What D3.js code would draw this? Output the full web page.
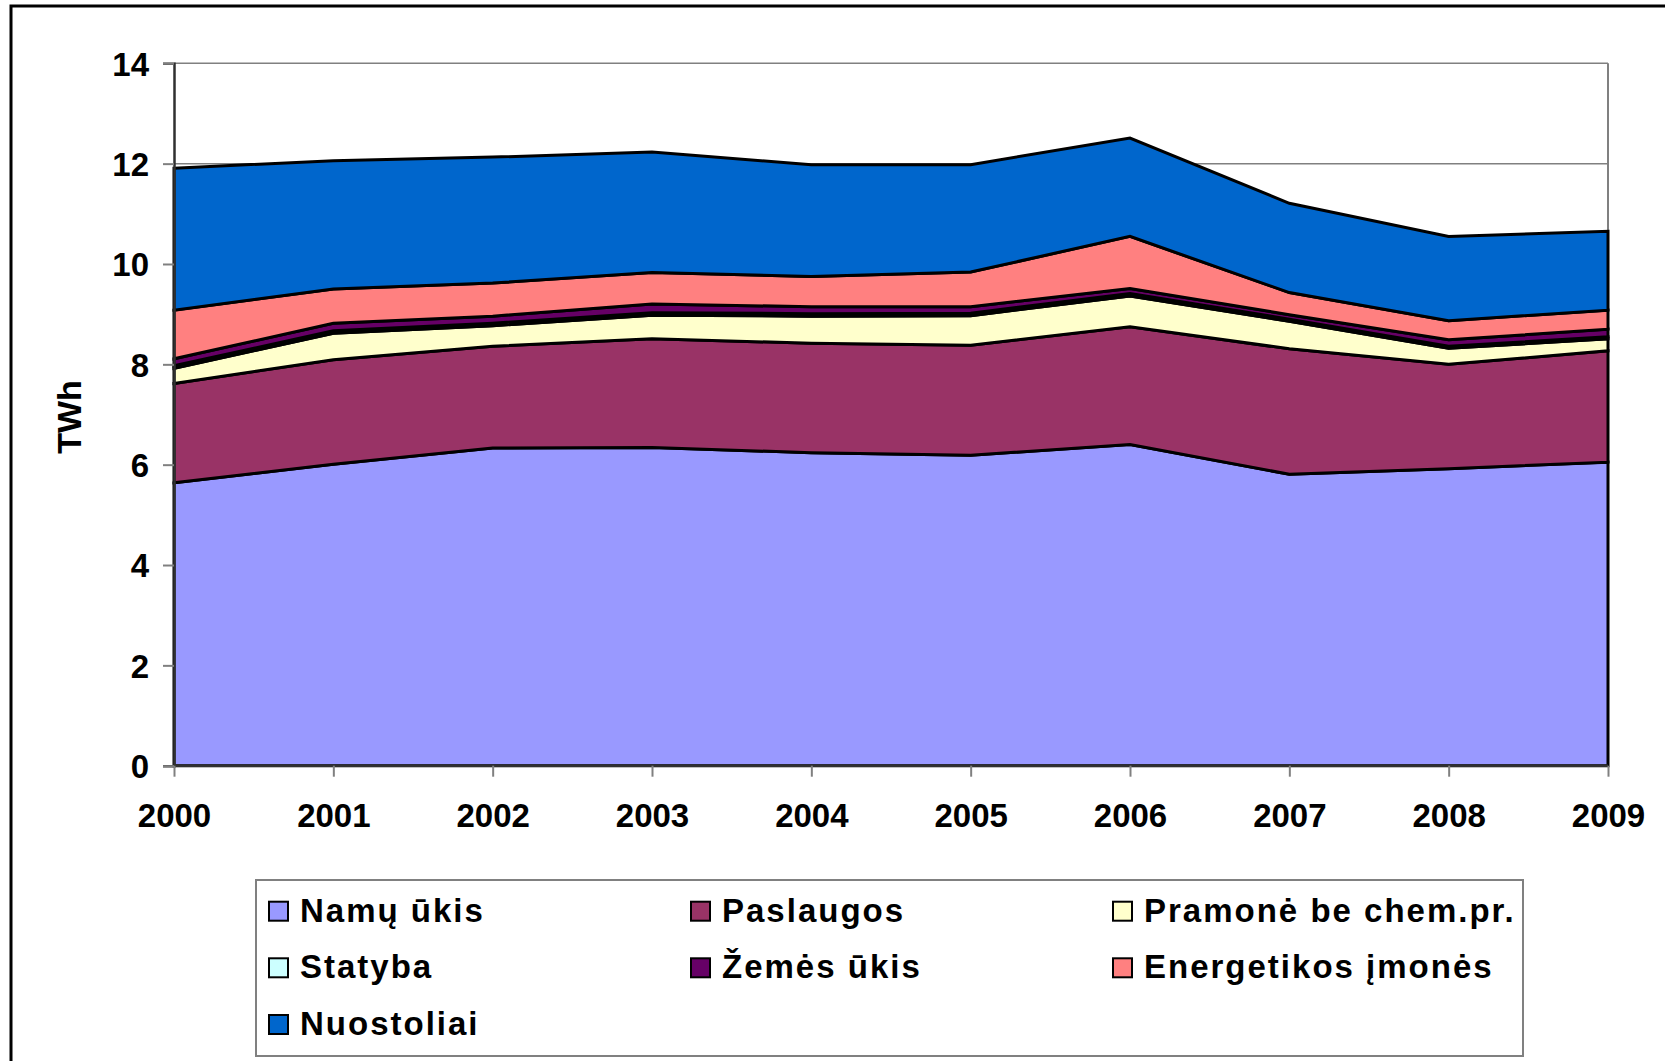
<!DOCTYPE html>
<html><head><meta charset="utf-8">
<script src="https://cdn.jsdelivr.net/npm/d3@7"></script>
<style>body{margin:0;background:#fff}svg{display:block}text{font-family:"Liberation Sans",Arial,sans-serif;font-weight:bold;fill:#000}</style>
</head><body>
<svg id="c" width="1665" height="1061"></svg>
<script>
const years = [2000,2001,2002,2003,2004,2005,2006,2007,2008,2009];
const seriesNames = ["Namų ūkis","Paslaugos","Pramonė be chem.pr.","Statyba","Žemės ūkis","Energetikos įmonės","Nuostoliai"];
const namuUkis    = [5.64,6.01,6.33,6.34,6.24,6.19,6.40,5.81,5.92,6.05];
const paslaugos   = [1.98,2.08,2.03,2.17,2.18,2.19,2.35,2.50,2.08,2.22];
const pramone     = [0.30,0.53,0.41,0.47,0.54,0.59,0.61,0.55,0.32,0.24];
const statyba     = [0.05,0.05,0.05,0.05,0.05,0.05,0.05,0.04,0.04,0.04];
const zemesUkis   = [0.14,0.15,0.14,0.17,0.14,0.13,0.10,0.09,0.13,0.15];
const energetikos = [0.97,0.68,0.66,0.63,0.60,0.69,1.04,0.44,0.38,0.38];
const nuostoliai  = [2.83,2.56,2.51,2.40,2.23,2.14,1.96,1.78,1.68,1.57];
const colors = ["#9999FF","#993366","#FFFFCC","#CCFFFF","#660066","#FF8080","#0066CC"];
const yTicks = [0,2,4,6,8,10,12,14];
const yLabel = "TWh";

const seriesValues = [namuUkis,paslaugos,pramone,statyba,zemesUkis,energetikos,nuostoliai];
const table = years.map((yr,i)=>{const o={year:yr};seriesNames.forEach((n,k)=>o[n]=seriesValues[k][i]);return o;});

const svg = d3.select("#c");
svg.append("rect").attr("x",11).attr("y",6).attr("width",1700).attr("height",1100)
  .attr("fill","#fff").attr("stroke","#000").attr("stroke-width",3);

const L=174, R=1608, T=63.3, B=765.7;
const x = d3.scalePoint().domain(years).range([L,R]);
const y = d3.scaleLinear().domain([0,14]).range([B,T]);

svg.append("g").selectAll("line").data(yTicks.filter(d=>d>0)).join("line")
  .attr("x1",L).attr("x2",R).attr("y1",d=>y(d)).attr("y2",d=>y(d))
  .attr("stroke","#808080").attr("stroke-width",1.5);
svg.append("line").attr("x1",R).attr("x2",R).attr("y1",T).attr("y2",B).attr("stroke","#808080").attr("stroke-width",2);

const stack = d3.stack().keys(seriesNames)(table);
const area = d3.area().x(d=>x(d.data.year)).y0(d=>y(d[0])).y1(d=>y(d[1]));
svg.append("g").selectAll("path").data(stack).join("path")
  .attr("d",area).attr("fill",(d,i)=>colors[i])
  .attr("stroke","#000").attr("stroke-width",3).attr("stroke-linejoin","miter");

const yAxis = svg.append("g").attr("transform",`translate(${L},0)`)
  .call(d3.axisLeft(y).tickValues(yTicks).tickSize(11).tickPadding(14).tickFormat(d3.format("d")));
yAxis.select(".domain").attr("stroke","#303030").attr("stroke-width",2.5);
yAxis.selectAll(".tick line").attr("stroke","#808080").attr("stroke-width",2);
yAxis.selectAll("text").attr("font-size",33).attr("dy","0.36em");

const xAxis = svg.append("g").attr("transform",`translate(0,${B})`)
  .call(d3.axisBottom(x).tickSize(11).tickPadding(27).tickFormat(d3.format("d")));
xAxis.select(".domain").attr("stroke","#303030").attr("stroke-width",2.5).attr("d",`M${L},0H${R}`);
xAxis.selectAll(".tick line").attr("stroke","#808080").attr("stroke-width",2);
xAxis.selectAll("text").attr("font-size",33).attr("dy","0.71em");

svg.selectAll(".tick text").style("font-family","'Liberation Sans',Arial,sans-serif").style("font-weight","bold").attr("fill","#000");

svg.append("text").attr("transform","translate(81,417) rotate(-90)").attr("text-anchor","middle")
  .attr("font-size",34).text(yLabel);

const lg = svg.append("g");
lg.append("rect").attr("x",256).attr("y",880).attr("width",1267).attr("height",176)
  .attr("fill","#fff").attr("stroke","#808080").attr("stroke-width",2);
const colX=[269,691,1113], rowY=[921.7,978.3,1035];
seriesNames.forEach((n,i)=>{
  const cx=colX[i%3], cy=rowY[Math.floor(i/3)];
  lg.append("rect").attr("x",cx).attr("y",cy-20).attr("width",19).attr("height",19)
    .attr("fill",colors[i]).attr("stroke","#000").attr("stroke-width",2);
  lg.append("text").attr("x",cx+31).attr("y",cy).attr("font-size",33).attr("letter-spacing",2).text(n);
});
</script>
</body></html>
